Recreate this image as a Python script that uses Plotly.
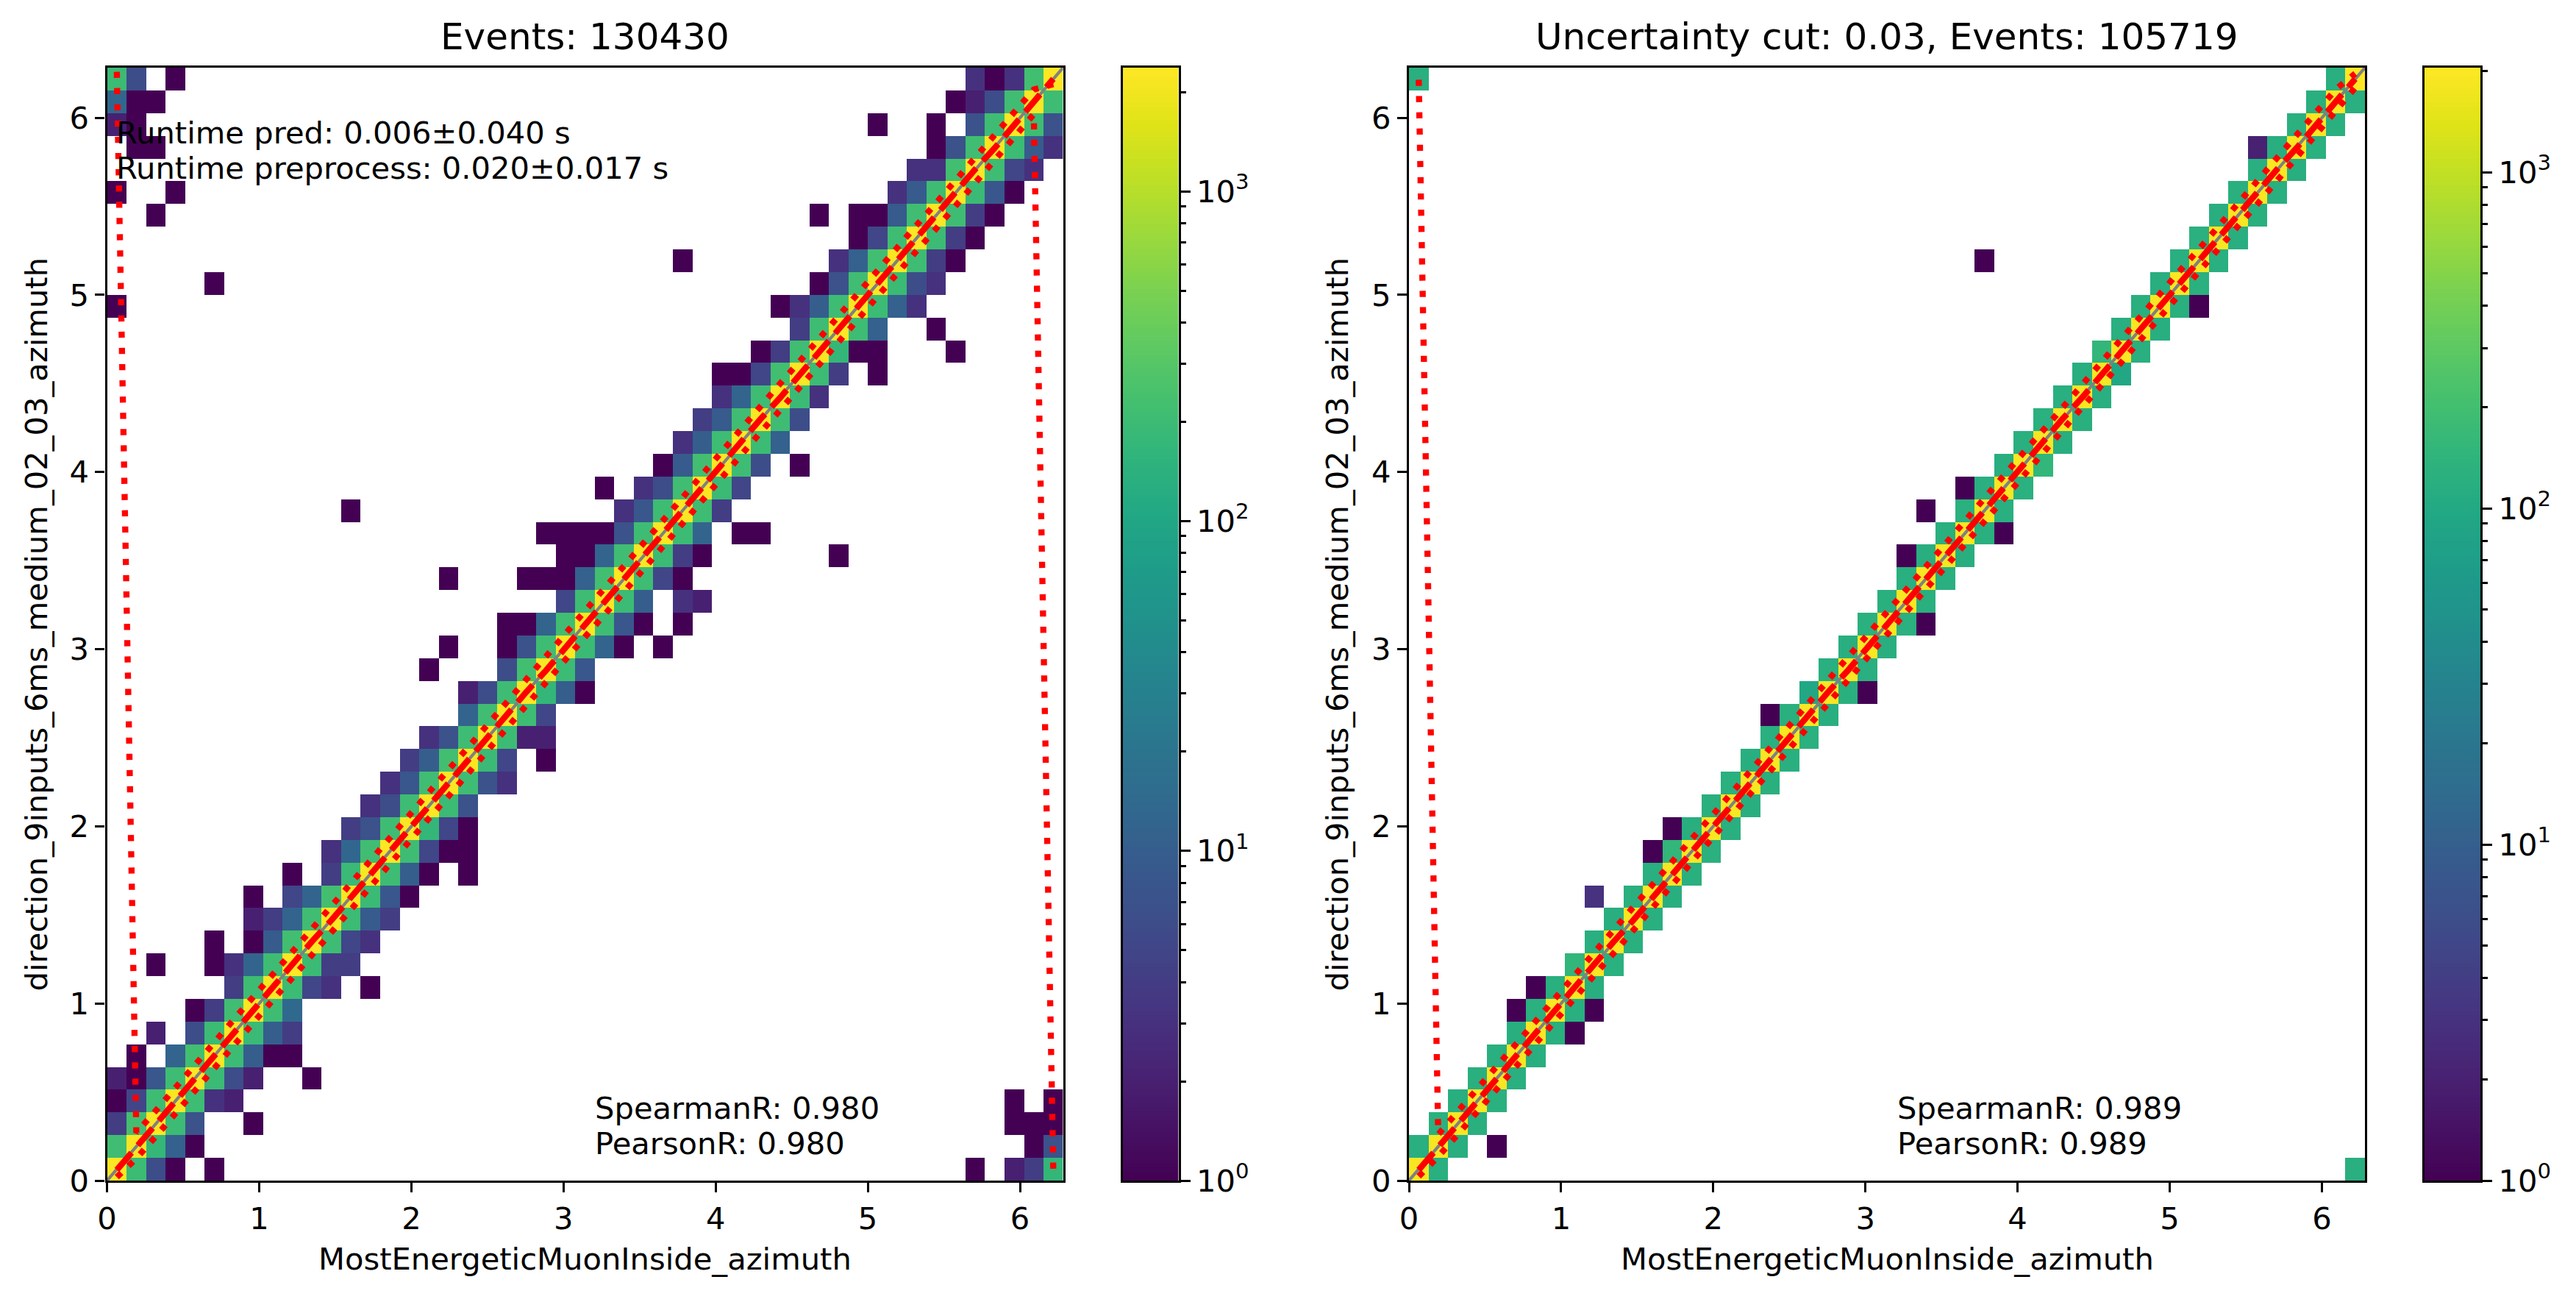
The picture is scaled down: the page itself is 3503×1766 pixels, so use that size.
import numpy as np
import plotly.graph_objects as go

W, H = 3503, 1766
N_BINS = 49
TWO_PI = 2 * np.pi

# ---- 2D histogram counts: (row, column, count) ----
# diagonal of each panel, then the cells directly above and below it
LEFT_DIAG = [2300, 2250, 2280, 2240, 2300, 2260, 2320, 2280, 2240, 2300, 2270, 2310, 2250, 2290, 2330, 2260, 2300, 2280,
             2240, 2310, 2270, 2290, 2250, 2320, 2280, 2260, 2300, 2240, 2310, 2270, 2290, 2250, 2330, 2280, 2260, 2300,
             2240, 2310, 2290, 2270, 2250, 2320, 2280, 2260, 2300, 2240, 2310, 2270, 2371]
LEFT_ABOVE = [215, 225, 205, 210, 220, 200, 215, 210, 205, 220, 215, 225, 190, 215, 210, 205, 215, 220, 210, 215, 205,
              220, 210, 215, 205, 220, 215, 210, 205, 215, 225, 210, 215, 205, 220, 215, 210, 205, 215, 220, 210, 215,
              205, 220, 215, 210, 215, 220]
LEFT_BELOW = [200, 175, 200, 205, 195, 200, 190, 205, 200, 195, 210, 200, 195, 205, 210, 170, 200, 205, 195, 200, 205,
              170, 200, 195, 205, 200, 210, 195, 200, 205, 195, 210, 200, 205, 195, 200, 170, 205, 200, 195, 205, 200,
              210, 195, 205, 200, 210, 205]
LEFT_CELLS = [
    (0, 2, 6), (0, 3, 1), (0, 5, 1), (0, 44, 1), (0, 46, 2), (0, 47, 4), (0, 48, 170),
    (1, 3, 11), (1, 4, 1), (1, 47, 1), (1, 48, 7),
    (2, 0, 4), (2, 4, 7), (2, 7, 1), (2, 46, 1), (2, 47, 1), (2, 48, 1),
    (3, 0, 1), (3, 1, 5), (3, 5, 3), (3, 6, 2), (3, 46, 1), (3, 48, 1),
    (4, 0, 2), (4, 1, 1), (4, 2, 8), (4, 6, 6), (4, 7, 2), (4, 10, 1),
    (5, 1, 1), (5, 3, 12), (5, 7, 10), (5, 8, 1), (5, 9, 1),
    (6, 2, 2), (6, 4, 6), (6, 8, 10), (6, 9, 4),
    (7, 4, 1), (7, 5, 4), (7, 9, 14),
    (8, 6, 4), (8, 10, 5), (8, 11, 3), (8, 13, 1),
    (9, 2, 1), (9, 5, 1), (9, 6, 3), (9, 7, 12), (9, 11, 4), (9, 12, 4),
    (10, 5, 1), (10, 7, 1), (10, 8, 9), (10, 12, 5), (10, 13, 3),
    (11, 7, 2), (11, 8, 4), (11, 9, 12), (11, 13, 9), (11, 14, 4),
    (12, 7, 1), (12, 9, 5), (12, 10, 12), (12, 14, 8), (12, 15, 1),
    (13, 9, 1), (13, 11, 4), (13, 15, 10), (13, 16, 1), (13, 18, 1),
    (14, 11, 3), (14, 12, 13), (14, 16, 5), (14, 17, 1), (14, 18, 1),
    (15, 12, 4), (15, 13, 7), (15, 17, 5), (15, 18, 1),
    (16, 13, 3), (16, 14, 6), (16, 18, 7),
    (17, 14, 3), (17, 15, 8), (17, 19, 7), (17, 20, 3),
    (18, 15, 4), (18, 16, 10), (18, 20, 5), (18, 22, 1),
    (19, 16, 3), (19, 17, 7), (19, 21, 2), (19, 22, 2),
    (20, 18, 12), (20, 22, 5),
    (21, 18, 2), (21, 19, 6), (21, 23, 10), (21, 24, 1),
    (22, 16, 1), (22, 20, 6), (22, 24, 8),
    (23, 17, 1), (23, 20, 1), (23, 21, 7), (23, 25, 12), (23, 26, 1), (23, 28, 1),
    (24, 20, 1), (24, 21, 1), (24, 22, 12), (24, 26, 8), (24, 27, 1), (24, 29, 1),
    (25, 23, 5), (25, 27, 10), (25, 29, 3), (25, 30, 2),
    (26, 17, 1), (26, 21, 1), (26, 22, 1), (26, 23, 1), (26, 24, 11), (26, 28, 5), (26, 29, 1),
    (27, 23, 1), (27, 24, 1), (27, 25, 12), (27, 29, 4), (27, 30, 1), (27, 37, 1),
    (28, 22, 1), (28, 23, 1), (28, 24, 1), (28, 25, 1), (28, 26, 7), (28, 30, 12), (28, 32, 1), (28, 33, 1),
    (29, 12, 1), (29, 26, 3), (29, 27, 8), (29, 31, 4),
    (30, 25, 1), (30, 27, 3), (30, 28, 6), (30, 32, 5),
    (31, 28, 1), (31, 29, 9), (31, 33, 6), (31, 35, 1),
    (32, 29, 3), (32, 30, 10), (32, 34, 11),
    (33, 30, 4), (33, 31, 9), (33, 35, 6),
    (34, 31, 3), (34, 32, 12), (34, 36, 3),
    (35, 31, 1), (35, 32, 1), (35, 33, 5), (35, 37, 4), (35, 39, 1),
    (36, 33, 1), (36, 34, 4), (36, 38, 1), (36, 39, 1), (36, 43, 1),
    (37, 35, 4), (37, 39, 11), (37, 42, 1),
    (38, 0, 1), (38, 34, 1), (38, 35, 3), (38, 36, 10), (38, 40, 11), (38, 41, 3),
    (39, 5, 1), (39, 36, 1), (39, 37, 7), (39, 41, 6), (39, 42, 3),
    (40, 29, 1), (40, 37, 3), (40, 38, 11), (40, 42, 4), (40, 43, 1),
    (41, 38, 1), (41, 39, 5), (41, 43, 4), (41, 44, 1),
    (42, 2, 1), (42, 36, 1), (42, 38, 1), (42, 39, 1), (42, 40, 9), (42, 44, 4), (42, 45, 1),
    (43, 0, 1), (43, 3, 1), (43, 40, 3), (43, 41, 9), (43, 45, 8), (43, 46, 1),
    (44, 41, 3), (44, 42, 3), (44, 46, 5), (44, 47, 3),
    (45, 1, 1), (45, 2, 1), (45, 42, 1), (45, 43, 7), (45, 47, 9), (45, 48, 3),
    (46, 0, 2), (46, 1, 1), (46, 39, 1), (46, 42, 1), (46, 44, 7), (46, 48, 7),
    (47, 0, 13), (47, 1, 1), (47, 2, 1), (47, 43, 1), (47, 44, 2), (47, 45, 6),
    (48, 0, 200), (48, 1, 6), (48, 3, 1), (48, 44, 3), (48, 45, 1), (48, 46, 3),
]

RIGHT_DIAG = [1950, 1900, 1930, 1960, 1920, 1900, 1940, 1970, 1910, 1950, 1930, 1900, 1960, 1920, 1940, 1980, 1910,
              1950, 1930, 1900, 1960, 1920, 1940, 1970, 1910, 1950, 1930, 1900, 1960, 1920, 1940, 1980, 1910, 1950,
              1930, 1900, 1960, 1920, 1940, 1970, 1910, 1950, 1930, 1900, 1960, 1920, 1940, 1970, 2046]
RIGHT_ABOVE = [120, 125, 118, 122, 120, 118, 125, 122, 150, 120, 118, 122, 120, 150, 118, 122, 125, 118, 120, 122, 95,
               120, 118, 125, 122, 120, 118, 122, 125, 120, 118, 122, 125, 120, 118, 150, 120, 122, 118, 120, 125, 118,
               122, 120, 118, 125, 122, 120]
RIGHT_BELOW = [120, 118, 122, 125, 120, 118, 122, 120, 118, 125, 122, 120, 118, 122, 125, 120, 118, 122, 120, 125, 118,
               122, 120, 118, 125, 122, 120, 118, 122, 120, 125, 150, 118, 122, 120, 95, 120, 118, 122, 125, 120, 118,
               122, 120, 118, 125, 122, 120]
RIGHT_CELLS = [
    (0, 48, 120), (48, 0, 120), (1, 4, 1), (8, 6, 1), (7, 5, 1), (7, 9, 1), (6, 8, 1),
    (12, 9, 3), (14, 12, 1), (15, 13, 1), (20, 18, 1), (21, 23, 1), (24, 26, 1), (27, 25, 1),
    (28, 30, 1), (29, 26, 1), (30, 28, 1), (38, 40, 1), (40, 29, 1), (45, 43, 2),
]

# ---- per-bin summary lines (one value per x bin) ----
LEFT_MEDIAN = [0.06, 0.19, 0.32, 0.45, 0.58, 0.70, 0.83, 0.96, 1.09, 1.22, 1.35, 1.47, 1.60, 1.73, 1.86, 1.99, 2.12,
               2.24, 2.37, 2.50, 2.63, 2.76, 2.88, 3.01, 3.14, 3.27, 3.40, 3.53, 3.65, 3.78, 3.91, 4.04, 4.17, 4.30,
               4.42, 4.55, 4.68, 4.81, 4.94, 5.06, 5.19, 5.32, 5.45, 5.58, 5.71, 5.83, 5.96, 6.09, 6.22]
LEFT_UPPER = [6.26, 0.27, 0.395, 0.52, 0.65, 0.78, 0.91, 1.035, 1.165, 1.29, 1.42, 1.55, 1.68, 1.805, 1.935, 2.06,
              2.19, 2.32, 2.445, 2.575, 2.70, 2.83, 2.96, 3.09, 3.215, 3.345, 3.47, 3.60, 3.73, 3.855, 3.985, 4.11,
              4.24, 4.37, 4.50, 4.625, 4.755, 4.88, 5.01, 5.14, 5.265, 5.395, 5.52, 5.65, 5.78, 5.905, 6.035, 6.16, 6.19]
LEFT_LOWER = [0.02, 0.125, 0.25, 0.38, 0.505, 0.635, 0.76, 0.89, 1.02, 1.145, 1.275, 1.40, 1.53, 1.66, 1.785, 1.915,
              2.045, 2.17, 2.30, 2.43, 2.555, 2.685, 2.81, 2.94, 3.07, 3.195, 3.325, 3.455, 3.58, 3.71, 3.84, 3.965,
              4.095, 4.225, 4.35, 4.48, 4.61, 4.735, 4.865, 4.99, 5.12, 5.25, 5.375, 5.505, 5.635, 5.76, 5.89, 6.02, 0.06]
RIGHT_MEDIAN = [0.06, 0.19, 0.32, 0.45, 0.58, 0.70, 0.83, 0.96, 1.09, 1.22, 1.35, 1.47, 1.60, 1.73, 1.86, 1.99, 2.12,
                2.24, 2.37, 2.50, 2.63, 2.76, 2.88, 3.01, 3.14, 3.27, 3.40, 3.53, 3.65, 3.78, 3.91, 4.04, 4.17, 4.30,
                4.42, 4.55, 4.68, 4.81, 4.94, 5.06, 5.19, 5.32, 5.45, 5.58, 5.71, 5.83, 5.96, 6.09, 6.22]
RIGHT_UPPER = [6.215, 0.26, 0.39, 0.515, 0.645, 0.775, 0.90, 1.03, 1.16, 1.285, 1.415, 1.54, 1.67, 1.80, 1.93, 2.055,
               2.185, 2.31, 2.44, 2.57, 2.695, 2.825, 2.955, 3.08, 3.21, 3.34, 3.465, 3.595, 3.725, 3.85, 3.98, 4.11,
               4.235, 4.365, 4.49, 4.62, 4.75, 4.875, 5.005, 5.135, 5.26, 5.39, 5.52, 5.645, 5.775, 5.90, 6.03, 6.16, 6.25]
RIGHT_LOWER = [0.024, 0.135, 0.26, 0.39, 0.52, 0.645, 0.775, 0.90, 1.03, 1.16, 1.285, 1.415, 1.54, 1.67, 1.80, 1.925,
               2.055, 2.185, 2.31, 2.44, 2.57, 2.695, 2.825, 2.955, 3.08, 3.21, 3.34, 3.465, 3.595, 3.72, 3.85, 3.98,
               4.105, 4.235, 4.365, 4.49, 4.62, 4.75, 4.875, 5.005, 5.13, 5.26, 5.39, 5.515, 5.645, 5.775, 5.90, 6.03, 6.17]

TITLES = ["Events: 130430", "Uncertainty cut: 0.03, Events: 105719"]
XLABEL = "MostEnergeticMuonInside_azimuth"
YLABEL = "direction_9inputs_6ms_medium_02_03_azimuth"
TEXT_LEFT = ["Runtime pred: 0.006±0.040 s", "Runtime preprocess: 0.020±0.017 s",
             "SpearmanR: 0.980", "PearsonR: 0.980"]
TEXT_RIGHT = ["SpearmanR: 0.989", "PearsonR: 0.989"]
VMAX = [2371, 2046]
AXIS_TICKS = [0, 1, 2, 3, 4, 5, 6]
CB_MAJOR = [1, 10, 100, 1000]
CB_LABELS = ["10<sup>0</sup>", "10<sup>1</sup>", "10<sup>2</sup>", "10<sup>3</sup>"]
CB_MINOR = [2, 3, 4, 5, 6, 7, 8, 9, 20, 30, 40, 50, 60, 70, 80, 90, 200, 300, 400, 500, 600, 700, 800, 900, 2000]

VIRIDIS = ["#440154", "#471365", "#482475", "#463480", "#414487", "#3b528b", "#355f8d", "#2f6c8e", "#2a788e", "#25848e",
           "#21918c", "#1e9c89", "#22a884", "#2fb47c", "#44bf70", "#5ec962", "#7ad151", "#9bd93c", "#bddf26", "#dfe318",
           "#fde725"]
COLORSCALE = [[i / (len(VIRIDIS) - 1), c] for i, c in enumerate(VIRIDIS)]

FONT = "DejaVu Sans"
FS = 41.67
TITLE_FS = 50
TICK_W = 3.33
LINE_W = 3.33


def build(diag, above, below, cells):
    grid = np.full((N_BINS, N_BINS), np.nan)
    for i, v in enumerate(diag):
        grid[i, i] = v
    for c, v in enumerate(above):
        grid[c + 1, c] = v
    for c, v in enumerate(below):
        grid[c, c + 1] = v
    for r, c, v in cells:
        grid[r, c] = v
    return grid


grids = [build(LEFT_DIAG, LEFT_ABOVE, LEFT_BELOW, LEFT_CELLS),
         build(RIGHT_DIAG, RIGHT_ABOVE, RIGHT_BELOW, RIGHT_CELLS)]
summaries = [(LEFT_MEDIAN, LEFT_UPPER, LEFT_LOWER), (RIGHT_MEDIAN, RIGHT_UPPER, RIGHT_LOWER)]

edges = np.linspace(0, TWO_PI, N_BINS + 1)
centers = (edges[:-1] + edges[1:]) / 2

AX_TOP, AX_BOTTOM = 92, 1605
AX_LEFT = [145.6, 1916]
AX_W = 1300
CB_OFFSET = 1381
CB_W = 76
ydom = [1 - AX_BOTTOM / H, 1 - AX_TOP / H]
YLABEL_X = [49, 1818]
XLABEL_Y = 1711
TITLE_Y = 50

fig = go.Figure()
layout = {}
annotations = []

for p in range(2):
    ax_x, ax_y = ("x", "y") if p == 0 else ("x2", "y2")
    cb_x, cb_y = f"x{p + 3}", f"y{p + 3}"
    z = np.log10(grids[p])
    logmax = np.log10(VMAX[p])
    fig.add_trace(go.Heatmap(x=edges, y=edges, z=z, zmin=0, zmax=logmax, colorscale=COLORSCALE, showscale=False,
                             xaxis=ax_x, yaxis=ax_y, hoverongaps=False))
    fig.add_trace(go.Scatter(x=[0, TWO_PI], y=[0, TWO_PI], mode="lines", line=dict(color="gray", width=4.17),
                             xaxis=ax_x, yaxis=ax_y, showlegend=False))
    med, up, lo = summaries[p]
    fig.add_trace(go.Scatter(x=centers, y=med, mode="lines", line=dict(color="red", width=8.33, dash="30.8px,13.3px"),
                             xaxis=ax_x, yaxis=ax_y, showlegend=False))
    for series in (up, lo):
        fig.add_trace(go.Scatter(x=centers, y=series, mode="lines", line=dict(color="red", width=8.33, dash="8.33px,13.75px"),
                                 xaxis=ax_x, yaxis=ax_y, showlegend=False))

    # colour bar drawn as its own log axis so that it can carry minor ticks
    cb_edges = np.logspace(0, logmax, 257)
    cb_levels = np.linspace(0, logmax, 256)
    fig.add_trace(go.Heatmap(x=[0, 1], y=cb_edges, z=cb_levels.reshape(-1, 1), zmin=0, zmax=logmax,
                             colorscale=COLORSCALE, showscale=False, xaxis=cb_x, yaxis=cb_y, hoverinfo="skip"))

    suffix = "" if p == 0 else "2"
    left = AX_LEFT[p]
    common = dict(range=[0, TWO_PI], showline=True, mirror=True, linecolor="black", linewidth=LINE_W, ticks="outside",
                  ticklen=13, tickwidth=TICK_W, tickcolor="black", showgrid=False, zeroline=False, automargin=False,
                  tickmode="array", tickvals=AXIS_TICKS, ticktext=[str(t) for t in AXIS_TICKS],
                  tickfont=dict(family=FONT, size=FS, color="black"))
    layout[f"xaxis{suffix}"] = dict(common, domain=[left / W, (left + AX_W) / W], anchor=ax_y)
    layout[f"yaxis{suffix}"] = dict(common, domain=ydom, anchor=ax_x)
    cbn = p + 3
    cb_left = left + CB_OFFSET
    layout[f"xaxis{cbn}"] = dict(domain=[cb_left / W, (cb_left + CB_W) / W], anchor=cb_y, range=[0, 1], showticklabels=False,
                                 ticks="", showgrid=False, zeroline=False, showline=True, mirror=True, automargin=False,
                                 linecolor="black", linewidth=LINE_W)
    layout[f"yaxis{cbn}"] = dict(domain=ydom, anchor=cb_x, side="right", type="log", range=[0, logmax], showgrid=False,
                                 zeroline=False, showline=True, mirror=True, linecolor="black", linewidth=LINE_W,
                                 ticks="outside", ticklen=13, tickwidth=TICK_W, tickcolor="black", automargin=False,
                                 tickmode="array", tickvals=CB_MAJOR, ticktext=CB_LABELS,
                                 tickfont=dict(family=FONT, size=FS, color="black"),
                                 minor=dict(tickmode="array", tickvals=CB_MINOR, ticks="outside", ticklen=7,
                                            tickwidth=2.5, tickcolor="black", showgrid=False))
    annotations.append(dict(text=TITLES[p], xref="paper", yref="paper", x=(left + AX_W / 2) / W, y=1 - TITLE_Y / H,
                            xanchor="center", yanchor="middle", showarrow=False,
                            font=dict(family=FONT, size=TITLE_FS, color="black")))
    annotations.append(dict(text=XLABEL, xref="paper", yref="paper", x=(left + AX_W / 2) / W, y=1 - XLABEL_Y / H,
                            xanchor="center", yanchor="middle", showarrow=False,
                            font=dict(family=FONT, size=FS, color="black")))
    annotations.append(dict(text=YLABEL, xref="paper", yref="paper", x=YLABEL_X[p] / W, y=sum(ydom) / 2, textangle=-90,
                            xanchor="center", yanchor="middle", showarrow=False,
                            font=dict(family=FONT, size=FS, color="black")))


def note(text, axx, axy, x, baseline):
    annotations.append(dict(text=text, xref=axx, yref=axy, x=x, y=baseline, xanchor="left", yanchor="bottom",
                            yshift=-12, xshift=-2, showarrow=False, font=dict(family=FONT, size=FS, color="black")))


note(TEXT_LEFT[0], "x", "y", 0.06, 5.854)
note(TEXT_LEFT[1], "x", "y", 0.06, 5.656)
note(TEXT_LEFT[2], "x", "y", 3.207, 0.347)
note(TEXT_LEFT[3], "x", "y", 3.207, 0.149)
note(TEXT_RIGHT[0], "x2", "y2", 3.207, 0.347)
note(TEXT_RIGHT[1], "x2", "y2", 3.207, 0.149)

fig.update_layout(width=W, height=H, autosize=False, margin=dict(l=0, r=0, t=0, b=0, pad=0), paper_bgcolor="white",
                  plot_bgcolor="white", showlegend=False, annotations=annotations,
                  font=dict(family=FONT, size=FS, color="black"), **layout)
fig.write_html("out.html", config={"displayModeBar": False},
               post_script="document.body.style.margin='0';document.documentElement.style.overflow='hidden';")
